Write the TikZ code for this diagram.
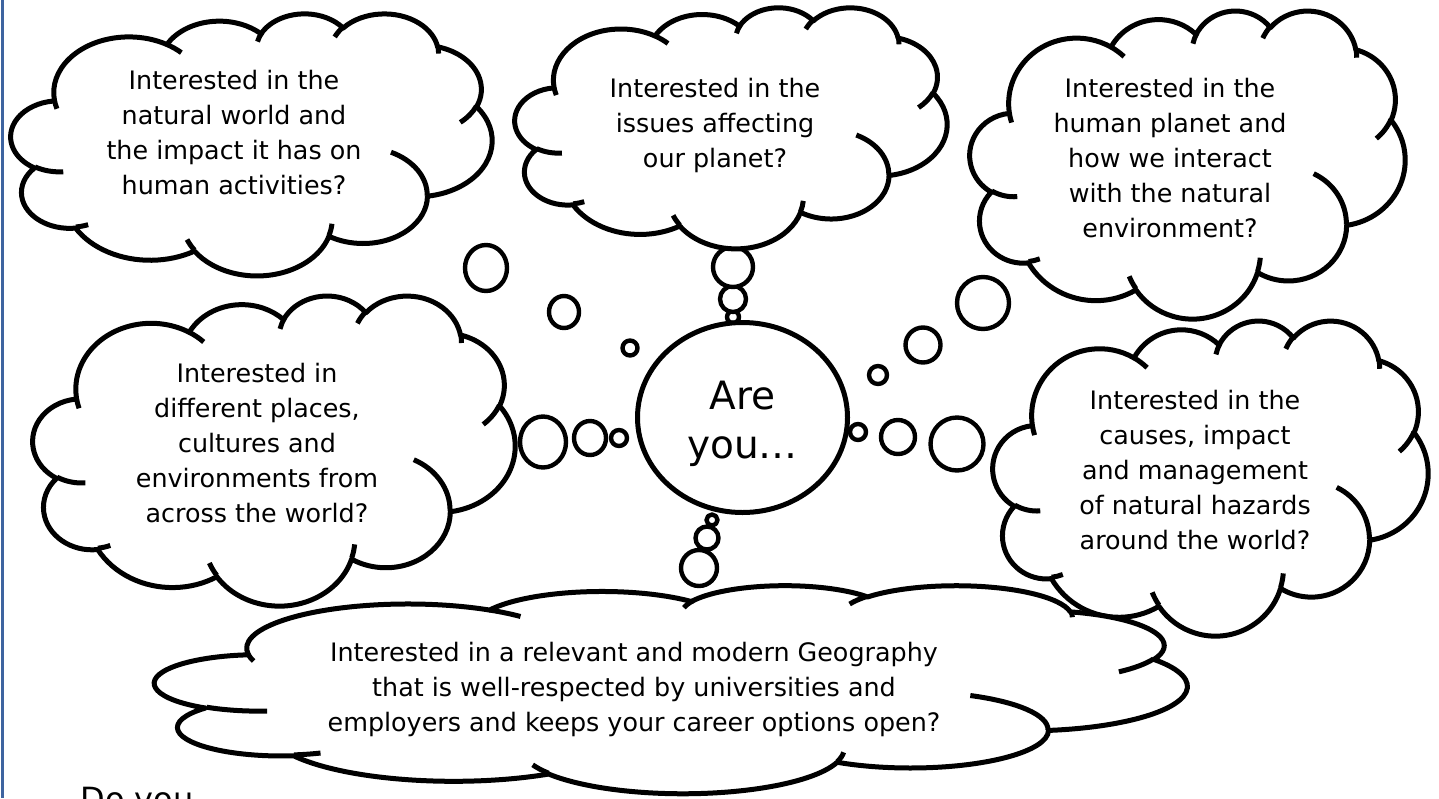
\documentclass[tikz,border=0pt]{standalone}
\usepackage{fontspec}
\setmainfont{DejaVu Sans}
\usepackage{tikz}
\usetikzlibrary{shapes.geometric,calc,backgrounds}
\definecolor{frame1} {RGB} {62, 100, 160}
\tikzstyle{cl}=[
  x=0.5pt, y=-0.5pt, line join=round
]
\tikzstyle{clnode}=[
  draw, fill=white, line width=2.5pt
]
\tikzstyle{clcloud}=[
  draw, fill=white, line width=2.5pt
]
\tikzstyle{clcurl}=[
  draw, line width=2.5pt
]
\tikzstyle{clbubble}=[
  clnode, ellipse, inner sep=0pt, line width=2.2pt
]
\tikzstyle{cltext}=[
  align=center, inner sep=0pt, anchor=north, font=\fontsize{12.7}{17.5}\selectfont
]
\tikzstyle{clbig}=[
  align=center, inner sep=0pt, font=\fontsize{19.5}{24.5}\selectfont
]
\newcommand\msp[2]{({\ox+#1*\kx},{\oy+#2*\ky})}
\newcommand\msarc[4]{arc[x radius={#1*\sx*1pt}, y radius={#2*\sy*1pt},
  start angle={-atan2(#1*sin(#3),#2*cos(#3))},
  delta angle={-mod(atan2(#1*sin(#3+#4),#2*cos(#3+#4))-atan2(#1*sin(#3),#2*cos(#3))+720,360)}]}
\newcommand\mscloud[4]{%
  \pgfmathsetmacro\ox{#1}\pgfmathsetmacro\oy{#2}%
  \pgfmathsetmacro\kx{#3/432}\pgfmathsetmacro\ky{#4/432}%
  \pgfmathsetmacro\sx{#3/864}\pgfmathsetmacro\sy{#4/864}%
  \path[clcloud] \msp{39.00}{143.70}
    \msarc{67.53}{91.90}{-190.4875}{123.7805}
    \msarc{53.33}{72.67}{-144.1024}{89.9452}
    \msarc{43.65}{59.45}{-145.8079}{99.7230}
    \msarc{48.57}{65.95}{-130.9861}{117.2417}
    \msarc{53.33}{72.73}{-78.7089}{109.0269}
    \msarc{67.75}{92.20}{-46.2673}{130.2690}
    \msarc{57.85}{78.67}{0.6250}{114.0333}
    \msarc{67.52}{92.15}{22.4516}{115.1726}
    \msarc{77.20}{105.43}{66.2426}{75.7110}
    \msarc{43.60}{59.18}{-274.9421}{146.7356}
    \msarc{43.45}{59.45}{-246.8285}{152.5189} -- cycle;
  \path[clcurl] \msp{46.93}{261.77} \msarc{43.45}{59.45}{86.742}{26.430}
    \msp{69.28}{348.99} \msarc{43.60}{59.18}{73.610}{11.447}
    \msp{164.78}{390.90} \msarc{67.52}{92.15}{137.624}{14.081}
    \msp{288.27}{347.51} \msarc{67.52}{92.15}{6.453}{15.998}
    \msp{341.29}{229.54} \msarc{57.85}{78.67}{-70.292}{70.917}
    \msp{417.98}{153.54} \msarc{53.33}{72.73}{30.318}{27.752}
    \msp{383.24}{54.26} \msarc{48.57}{65.95}{-13.744}{14.859}
    \msp{290.78}{39.52} \msarc{48.57}{65.95}{-149.181}{18.195}
    \msp{221.41}{47.20} \msarc{43.65}{59.45}{-163.494}{18.676}
    \msp{140.00}{51.92} \msarc{67.53}{91.90}{-66.707}{12.319}
    \msp{41.27}{157.89} \msarc{67.53}{91.90}{157.654}{11.858};
}

\begin{document}
\begin{tikzpicture}[cl]
    \useasboundingbox (0, 0) rectangle (1439, 798);
    \coordinate (frame top) at (2.5, 0);
    \coordinate (frame bot) at (2.5, 798);
    \draw [frame1, line width=1.2pt] (frame top) -- (frame bot);
    \coordinate (mid) at (742, 417);
    \node (t1) [clbubble, minimum width=6pt, minimum height=6pt]  at ($(mid) + (-9, -100)$) {};
    \node (t2) [clbubble, minimum width=13pt, minimum height=13pt] at ($(mid) + (-9, -118)$) {};
    \node (t3) [clbubble, minimum width=20pt, minimum height=20pt] at ($(mid) + (-9, -150)$) {};
    \node (d1) [clbubble, minimum width=5.5pt, minimum height=5.5pt] at ($(mid) + (-30, 103)$) {};
    \node (d2) [clbubble, minimum width=11.5pt, minimum height=11.5pt] at ($(mid) + (-35, 121)$) {};
    \node (d3) [clbubble, minimum width=18pt, minimum height=18pt] at ($(mid) + (-43, 151)$) {};
    \node (l1) [clbubble, minimum width=8pt, minimum height=8pt]  at ($(mid) + (-123, 21)$) {};
    \node (l2) [clbubble, minimum width=16pt, minimum height=17pt] at ($(mid) + (-152, 21)$) {};
    \node (l3) [clbubble, minimum width=23pt, minimum height=25.5pt] at ($(mid) + (-199, 25)$) {};
    \node (ul1) [clbubble, minimum width=7.5pt, minimum height=7.5pt] at ($(mid) + (-112, -69)$) {};
    \node (ul2) [clbubble, minimum width=15pt, minimum height=16pt] at ($(mid) + (-178, -105)$) {};
    \node (ul3) [clbubble, minimum width=21pt, minimum height=23pt] at ($(mid) + (-256, -149)$) {};
    \node (r1) [clbubble, minimum width=8pt, minimum height=8pt] at ($(mid) + (116, 15)$) {};
    \node (r2) [clbubble, minimum width=17pt, minimum height=17pt] at ($(mid) + (156, 20)$) {};
    \node (r3) [clbubble, minimum width=26.5pt, minimum height=26.5pt] at ($(mid) + (215, 27)$) {};
    \node (ur1) [clbubble, minimum width=9pt, minimum height=9pt] at ($(mid) + (136, -42)$) {};
    \node (ur2) [clbubble, minimum width=17.5pt, minimum height=17.5pt] at ($(mid) + (181, -72)$) {};
    \node (ur3) [clbubble, minimum width=26pt, minimum height=26pt] at ($(mid) + (241, -114)$) {};
    \mscloud{11}{13}{481}{262}
    \mscloud{515}{7}{432}{241}
    \mscloud{970}{10}{435}{308}
    \mscloud{33}{295}{482}{310}
    \mscloud{993}{320}{435}{315}
    \mscloud{155}{585}{1032}{208}
    \node (are) [clnode, ellipse, minimum width=105pt, minimum height=95pt, inner sep=0pt] at ($(mid) + (0.5, 0.5)$) {};
    \node (t c1) [cltext] at (234, 70) {Interested in the\\natural world and\\the impact it has on\\human activities?};
    \node (t c2) [cltext] at (715, 78) {Interested in the\\issues affecting\\our planet?};
    \node (t c3) [cltext] at (1170, 78) {Interested in the\\human planet and\\how we interact\\with the natural\\environment?};
    \node (t c4) [cltext] at (257, 363) {Interested in\\different places,\\cultures and\\environments from\\across the world?};
    \node (t c5) [cltext] at (1195, 390) {Interested in the\\causes, impact\\and management\\of natural hazards\\around the world?};
    \node (t c6) [cltext] at (634, 642) {Interested in a relevant and modern Geography\\that is well-respected by universities and\\employers and keeps your career options open?};
    \node (t are) [clbig, anchor=north] at ($(are.center) + (0, -37)$) {Are\\you…};
    \node (do you) [font=\fontsize{16}{20}\selectfont, inner sep=0pt, anchor=base west] at (80, 810) {Do you};
\end{tikzpicture}
\end{document}
